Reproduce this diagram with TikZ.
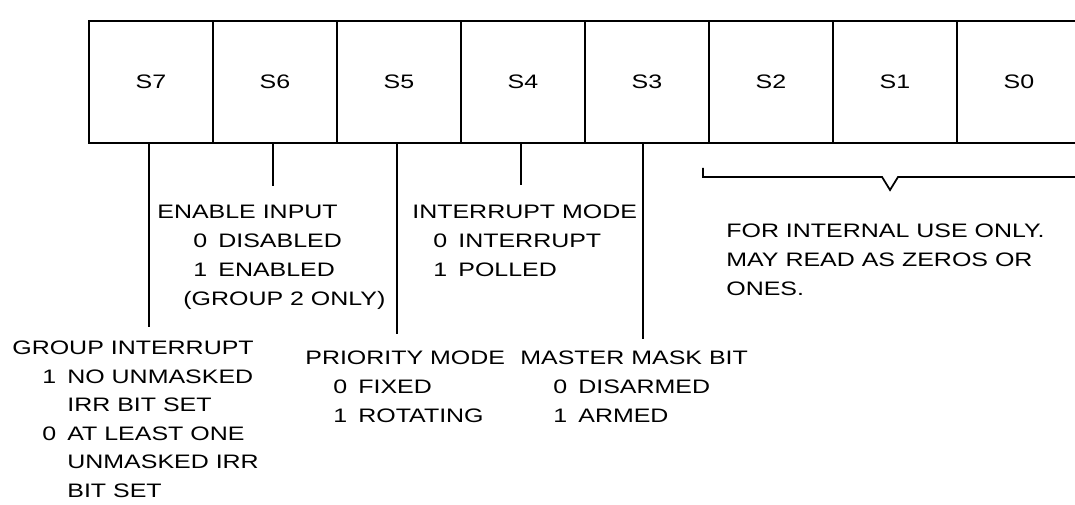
\documentclass[tikz,border=0pt]{standalone}
\usepackage{fontspec}
\setmainfont[FakeStretch=1.28]{Liberation Sans}
\usepackage{tikz}
\usetikzlibrary{calc}

\newcommand{\opt}[3][0.6cm]{\hspace*{#1}\makebox[0.5cm][l]{#2}#3}

\tikzset{
	cell/.style={draw, line width=1pt, minimum width=2.48cm, minimum height=2.44cm, inner sep=0pt, outer sep=0pt},
	txt/.style={anchor=north west, align=left, inner sep=0pt},
	lead/.style={line width=1pt},
}

\begin{document}
\begin{tikzpicture}[scale=0.4, font=\fontsize{11.1}{16.5}\selectfont]
		\path[use as bounding box, clip] (0,0) rectangle (53.75,25.25);
		\node[cell] (s7) at (7.55,21.15) {S7};
		\node[cell] (s6) at (13.75,21.15) {S6};
		\node[cell] (s5) at (19.95,21.15) {S5};
		\node[cell] (s4) at (26.15,21.15) {S4};
		\node[cell] (s3) at (32.35,21.15) {S3};
		\node[cell] (s2) at (38.55,21.15) {S2};
		\node[cell] (s1) at (44.75,21.15) {S1};
		\node[cell] (s0) at (50.95,21.15) {S0};
		\draw[line width=1.6pt] (s0.north east) -- (s7.north west) -- (s7.south west) -- (s0.south east);
		% leader ends
		\coordinate (e7) at (7.45,8.9);
		\coordinate (e6) at (13.65,15.95);
		\coordinate (e5) at (19.85,8.55);
		\coordinate (e4) at (26.05,16.0);
		\coordinate (e3) at (32.15,8.3);
		\draw[lead] (s7.south -| e7) -- (e7);
		\draw[lead] (s6.south -| e6) -- (e6);
		\draw[lead] (s5.south -| e5) -- (e5);
		\draw[lead] (s4.south -| e4) -- (e4);
		\draw[lead] (s3.south -| e3) -- (e3);
		% bracket under S2..S0
		\coordinate (bl) at (35.15,16.85);
		\coordinate (bm) at (44.5,15.75);
		\coordinate (br) at (54,16.4);
		\draw[lead] (bl) -- (bl |- br) -- ($(bm |- br)+(-0.4,0)$) -- (bm) -- ($(bm |- br)+(0.4,0)$) -- (br);
		\node[txt] (en) at (7.85,15.0) {ENABLE INPUT\\ \opt[0.72cm]{0}{DISABLED}\\ \opt[0.72cm]{1}{ENABLED}\\ \hspace*{0.52cm}(GROUP 2 ONLY)};
		\node[txt] (im) at (20.6,15.0) {INTERRUPT MODE\\ \opt[0.42cm]{0}{INTERRUPT}\\ \opt[0.42cm]{1}{POLLED}};
		\node[txt] (iu) at (36.3,14.05) {FOR INTERNAL USE ONLY.\\ MAY READ AS ZEROS OR\\ ONES.};
		\node[txt, font=\fontsize{11.1}{16.2}\selectfont] (gi) at (0.6,8.2) {GROUP INTERRUPT\\ \opt{1}{NO UNMASKED}\\ \opt{}{IRR BIT SET}\\ \opt{0}{AT LEAST ONE}\\ \opt{}{UNMASKED IRR}\\ \opt{}{BIT SET}};
		\node[txt] (pm) at (15.25,7.7) {PRIORITY MODE\\ \opt[0.56cm]{0}{FIXED}\\ \opt[0.56cm]{1}{ROTATING}};
		\node[txt] (mm) at (26.0,7.7) {MASTER MASK BIT\\ \opt[0.66cm]{0}{DISARMED}\\ \opt[0.66cm]{1}{ARMED}};
	\end{tikzpicture}
\end{document}
